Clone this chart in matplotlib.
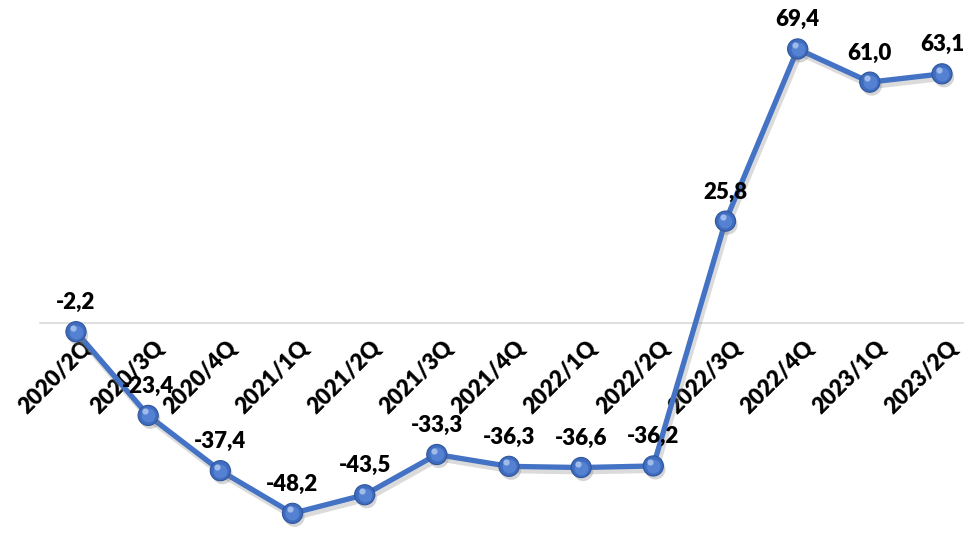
import matplotlib.pyplot as plt
import matplotlib.patheffects as pe

quarters = ["2020/2Q", "2020/3Q", "2020/4Q", "2021/1Q", "2021/2Q", "2021/3Q", "2021/4Q",
            "2022/1Q", "2022/2Q", "2022/3Q", "2022/4Q", "2023/1Q", "2023/2Q"]
values = [-2.2, -23.4, -37.4, -48.2, -43.5, -33.3, -36.3, -36.6, -36.2, 25.8, 69.4, 61.0, 63.1]

plt.rcParams['font.family'] = ['Lato', 'DejaVu Sans']

fig = plt.figure(figsize=(9.64, 5.39), dpi=100)
ax = fig.add_axes([0, 0, 1, 1])
ax.set_xlim(-1.053, 12.305)
ax.set_ylim(-54.7, 81.8)
ax.axis('off')

x = list(range(len(values)))

# zero line
ax.plot([-0.5, 12.4], [0, 0], color="#d9d9d9", lw=1.2, zorder=1)

# line with soft shadow
shadow = [pe.SimpleLineShadow(offset=(1.5, -2.5), shadow_color="#888888", alpha=0.3, linewidth=5), pe.Normal()]
ax.plot(x, values, color="#4472c4", lw=3.8, zorder=3, path_effects=shadow,
        solid_capstyle='round', solid_joinstyle='round')

# sphere-like markers
ax.plot(x, values, 'o', ms=14.5, color="#3f6cbf", mec="#2f559c", mew=0.8, zorder=4,
        path_effects=[pe.SimplePatchShadow(offset=(1.5, -2.5), shadow_rgbFace="#777777", alpha=0.3), pe.Normal()])
ax.plot(x, values, 'o', ms=10, color="#5581d2", mew=0, zorder=5)
ax.plot([i - 0.04 for i in x], [v + 1.0 for v in values], 'o', ms=4.5, color="#9fbbea", mew=0, zorder=6)

# data labels
for xi, v in zip(x, values):
    txt = ("%.1f" % v).replace(".", ",")
    ax.annotate(txt, (xi, v), xytext=(0, 21), textcoords="offset points",
                ha="center", va="center", fontsize=16, fontweight="heavy", color="black", zorder=7)

# category labels along zero line
for xi, q in zip(x, quarters):
    ax.annotate(q, (xi, 0), xytext=(4, -10), textcoords="offset points",
                ha="right", va="top", rotation=45, rotation_mode="anchor",
                fontsize=16, fontweight="heavy", color="black", zorder=2)

fig.savefig("out.png", dpi=100)
